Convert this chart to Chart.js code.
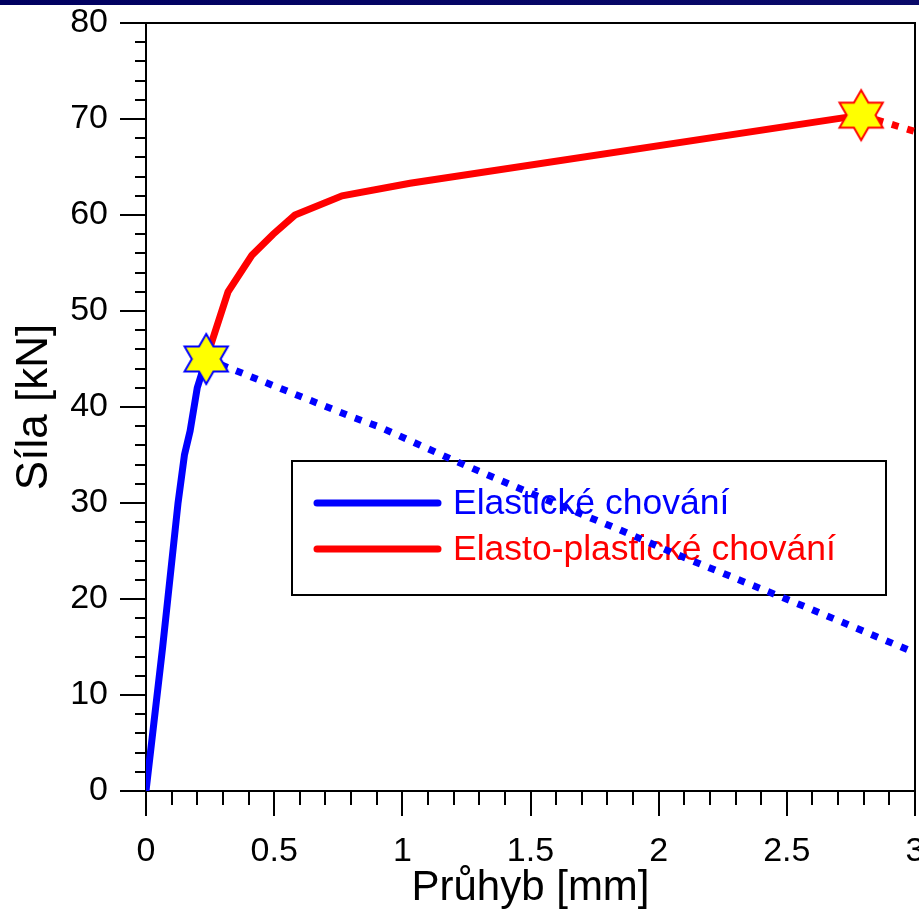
<!DOCTYPE html>
<html>
<head>
<meta charset="utf-8">
<title>Síla – průhyb</title>
<script src="https://cdn.jsdelivr.net/npm/chart.js@4"></script>
<style>
  html, body { margin: 0; padding: 0; background: #fff; }
  canvas { display: block; }
</style>
</head>
<body>
<canvas id="chart" width="919" height="917"></canvas>
<script>
// Průhyb [mm] / Síla [kN]
const elasticX = [0, 0.065, 0.085, 0.125, 0.15, 0.172, 0.2, 0.235];
const elasticY = [0, 15, 20, 30, 35, 37.5, 42, 45];

const plasticX = [0.235, 0.32, 0.413, 0.496, 0.581, 0.765, 1.03, 2.79];
const plasticY = [45, 52, 55.8, 58, 60, 62, 63.3, 70.4];

// continuation after the limit points
const elasticTailX = [0.235, 0.34, 0.8, 0.913, 1.213, 1.537, 1.849, 2.056, 2.58, 3.0];
const elasticTailY = [45, 43.9, 39, 37.9, 34.3, 30.6, 27.2, 24.8, 19.1, 14.4];

const plasticTailX = [2.79, 3.0];
const plasticTailY = [70.4, 68.7];

// limit points (stars)
const limitX = [0.235, 2.79];
const limitY = [45, 70.4];

const xTicks = [0, 0.5, 1, 1.5, 2, 2.5, 3];
const yTicks = [0, 10, 20, 30, 40, 50, 60, 70, 80];

const legendLabels = ['Elastické chování', 'Elasto-plastické chování'];

const FONT = "'Liberation Sans', Arial, Helvetica, sans-serif";
const BLUE = '#0000ff';
const RED = '#ff0000';

const pts = (xs, ys) => xs.map((x, i) => ({ x, y: ys[i] }));
const noPadding = () => ({ left: 0, top: 0, right: 0, bottom: 0 });

function makeStar(stroke) {
  const c = document.createElement('canvas');
  c.width = 56;
  c.height = 56;
  const g = c.getContext('2d');
  const R = 25, r = R / Math.sqrt(3);
  g.beginPath();
  for (let k = 0; k < 12; k++) {
    const a = -Math.PI / 2 + k * Math.PI / 6;
    const rad = k % 2 === 0 ? R : r;
    const px = 28 + rad * Math.cos(a), py = 28 + rad * Math.sin(a);
    if (k === 0) g.moveTo(px, py); else g.lineTo(px, py);
  }
  g.closePath();
  g.fillStyle = '#ffff00';
  g.fill();
  g.lineWidth = 2;
  g.strokeStyle = stroke;
  g.stroke();
  return c;
}

const stars = [makeStar(BLUE), makeStar(RED)];

// axes frame, major/minor ticks and the legend box
const framePlugin = {
  id: 'frame',
  beforeDatasetsDraw(chart) {
    const { ctx, chartArea: a, scales: { x, y } } = chart;
    ctx.save();
    ctx.strokeStyle = '#000';
    ctx.lineWidth = 2;
    ctx.strokeRect(a.left, a.top, a.right - a.left, a.bottom - a.top);

    ctx.beginPath();
    for (let i = 0; i <= 30; i++) {
      const px = Math.round(x.getPixelForValue(i / 10));
      const len = i % 5 === 0 ? 25 : 14;
      ctx.moveTo(px, a.bottom);
      ctx.lineTo(px, a.bottom + len);
    }
    for (let v = 0; v <= 80; v += 2) {
      const py = Math.round(y.getPixelForValue(v));
      const len = v % 10 === 0 ? 26 : 11;
      ctx.moveTo(a.left, py);
      ctx.lineTo(a.left - len, py);
    }
    ctx.stroke();

    // legend
    ctx.fillStyle = '#fff';
    ctx.fillRect(292, 461, 594, 134);
    ctx.strokeRect(292, 461, 594, 134);
    const rows = [[503, BLUE], [549, RED]];
    ctx.lineWidth = 7;
    ctx.lineCap = 'round';
    ctx.font = '35.5px ' + FONT;
    ctx.textBaseline = 'middle';
    rows.forEach(([ly, col], i) => {
      ctx.strokeStyle = col;
      ctx.beginPath();
      ctx.moveTo(317, ly);
      ctx.lineTo(438, ly);
      ctx.stroke();
      ctx.fillStyle = col;
      ctx.fillText(legendLabels[i], 453, ly + 1);
    });
    ctx.restore();
  },
  afterDraw(chart) {
    const { ctx, width } = chart;
    const grad = ctx.createLinearGradient(0, 0, width, 0);
    grad.addColorStop(0, '#000060');
    grad.addColorStop(1, '#0a0a6a');
    ctx.save();
    ctx.fillStyle = grad;
    ctx.fillRect(0, 0, width, 5);
    ctx.restore();
  }
};

const lineDefaults = {
  type: 'line',
  pointRadius: 0,
  tension: 0,
  fill: false,
  borderWidth: 7
};

new Chart(document.getElementById('chart'), {
  type: 'line',
  data: {
    datasets: [
      {
        label: 'limits',
        type: 'scatter',
        data: pts(limitX, limitY),
        pointStyle: stars,
        pointRadius: 25,
        pointHoverRadius: 25,
        showLine: false,
        order: 0
      },
      { ...lineDefaults, label: legendLabels[0], data: pts(elasticX, elasticY), borderColor: BLUE, order: 2 },
      { ...lineDefaults, label: legendLabels[1], data: pts(plasticX, plasticY), borderColor: RED, order: 1 },
      { ...lineDefaults, label: 'elastic tail', data: pts(elasticTailX, elasticTailY), borderColor: BLUE, borderDash: [7, 9], order: 3 },
      { ...lineDefaults, label: 'plastic tail', data: pts(plasticTailX, plasticTailY), borderColor: RED, borderDash: [7, 9], order: 3 }
    ]
  },
  options: {
    responsive: false,
    devicePixelRatio: 1,
    animation: false,
    events: [],
    layout: { autoPadding: false, padding: { top: 23, right: 4, left: 0, bottom: 0 } },
    plugins: { legend: { display: false }, tooltip: { enabled: false } },
    scales: {
      x: {
        type: 'linear',
        min: 0,
        max: 3,
        afterBuildTicks: (s) => { s.ticks = xTicks.map(value => ({ value })); },
        afterFit: (s) => {
          s.height = 126;
          s.paddingLeft = 0;
          s.paddingRight = 0;
          s.getPadding = noPadding;
        },
        grid: { display: false, drawTicks: false },
        border: { display: false },
        ticks: {
          color: '#000', padding: 40, maxRotation: 0, autoSkip: false,
          font: { family: FONT, size: 34 },
          callback: (v) => String(v)
        },
        title: { display: true, text: 'Průhyb [mm]', color: '#000', padding: { bottom: 3, top: 0 }, font: { family: FONT, size: 42 } }
      },
      y: {
        type: 'linear',
        min: 0,
        max: 80,
        afterBuildTicks: (s) => { s.ticks = yTicks.map(value => ({ value })); },
        afterFit: (s) => {
          s.width = 146;
          s.paddingTop = 0;
          s.paddingBottom = 0;
          s.getPadding = noPadding;
        },
        grid: { display: false, drawTicks: false },
        border: { display: false },
        ticks: {
          color: '#000', padding: 38, autoSkip: false,
          font: { family: FONT, size: 34 },
          callback: (v) => String(v)
        },
        title: { display: true, text: 'Síla [kN]', color: '#000', padding: { top: 8, bottom: 0 }, font: { family: FONT, size: 44 } }
      }
    }
  },
  plugins: [framePlugin]
});
</script>
</body>
</html>
